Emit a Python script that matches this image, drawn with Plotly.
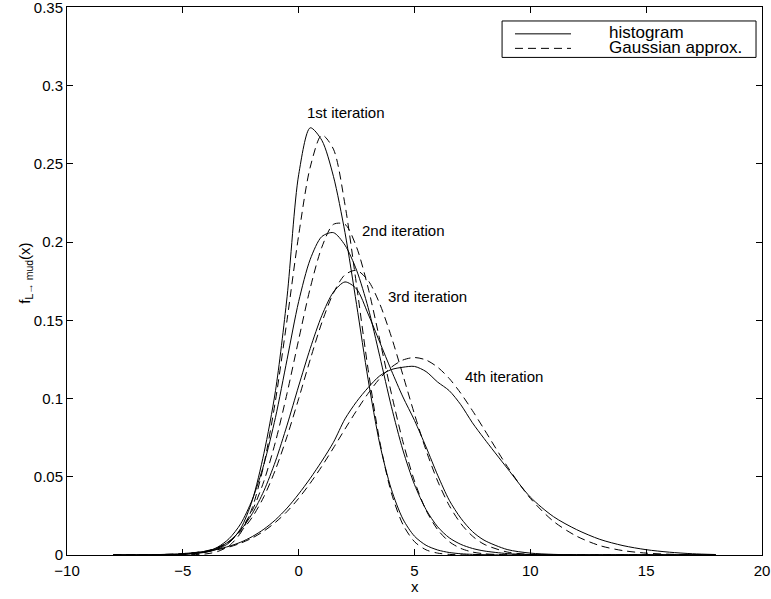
import plotly.graph_objects as go

# ---- data ----
x = [-8, -7, -6, -5, -4, -3.5, -3, -2.5, -2, -1.5, -1, -0.5, 0, 0.5, 1, 1.5, 2, 2.5, 3, 3.5,
     4, 4.5, 5, 5.5, 6, 6.5, 7, 7.5, 8, 9, 10, 11, 12, 13, 14, 15, 16, 17, 18]

hist_1 = [0, 0, 0.0001, 0.0004,
          0.0018, 0.0038, 0.0078, 0.0170, 0.0350, 0.0650, 0.1050, 0.1650, 0.2430, 0.2730, 0.2650, 0.2420,
          0.2060, 0.1600, 0.1120, 0.0710, 0.0420, 0.0230, 0.0120, 0.0062, 0.0032, 0.0016, 0.0008, 0.0004, 0.0002,
          0, 0, 0, 0, 0, 0, 0, 0, 0, 0]
gauss_1 = [0, 0, 0, 0.0001,
           0.0007, 0.0022, 0.0059, 0.0142, 0.0303, 0.0579, 0.0988, 0.1503, 0.2043, 0.2479, 0.2684, 0.2594,
           0.2238, 0.1723, 0.1184, 0.0727, 0.0398, 0.0195, 0.0085, 0.0033, 0.0012, 0.0004, 0.0001, 0, 0,
           0, 0, 0, 0, 0, 0, 0, 0, 0, 0]
hist_2 = [0, 0, 0.0001, 0.0005,
          0.0022, 0.0050, 0.0105, 0.0200, 0.0355, 0.0580, 0.0880, 0.1250, 0.1620, 0.1890, 0.2035, 0.2060,
          0.1980, 0.1820, 0.1580, 0.1270, 0.0950, 0.0670, 0.0450, 0.0290, 0.0180, 0.0110, 0.0068, 0.0042, 0.0026,
          0.0009, 0.0003, 0.0001, 0, 0, 0, 0, 0, 0, 0]
gauss_2 = [0, 0, 0, 0.0003,
           0.0019, 0.0042, 0.0085, 0.0162, 0.0286, 0.0472, 0.0724, 0.1034, 0.1376, 0.1706, 0.1967, 0.2113,
           0.2113, 0.1967, 0.1706, 0.1376, 0.1034, 0.0724, 0.0472, 0.0286, 0.0162, 0.0085, 0.0042, 0.0019, 0.0008,
           0.0001, 0, 0, 0, 0, 0, 0, 0, 0, 0]
hist_3 = [0, 0, 0.0001, 0.0005,
          0.0022, 0.0045, 0.0088, 0.0160, 0.0265, 0.0410, 0.0600, 0.0830, 0.1080, 0.1320, 0.1530, 0.1680,
          0.1745, 0.1700, 0.1540, 0.1360, 0.1180, 0.1010, 0.0860, 0.0690, 0.0510, 0.0350, 0.0235, 0.0150, 0.0095,
          0.0035, 0.0012, 0.0004, 0.0001, 0, 0, 0, 0, 0, 0]
gauss_3 = [0, 0, 0.0001, 0.0006,
           0.0026, 0.0048, 0.0087, 0.0149, 0.0242, 0.0373, 0.0546, 0.0758, 0.0999, 0.1250, 0.1485, 0.1674,
           0.1791, 0.1819, 0.1754, 0.1605, 0.1395, 0.1150, 0.0900, 0.0669, 0.0472, 0.0316, 0.0201, 0.0121, 0.0069,
           0.0019, 0.0004, 0.0001, 0, 0, 0, 0, 0, 0, 0]
hist_4 = [0, 0.0001, 0.0003, 0.0009,
          0.0024, 0.0037, 0.0056, 0.0082, 0.0118, 0.0165, 0.0225, 0.0300, 0.0390, 0.0490, 0.0600, 0.0720,
          0.0870, 0.0980, 0.1070, 0.1145, 0.1185, 0.1200, 0.1205, 0.1172, 0.1105, 0.1050, 0.0960, 0.0845, 0.0745,
          0.0555, 0.0370, 0.0245, 0.0162, 0.0100, 0.0060, 0.0034, 0.0018, 0.0008, 0.0003]
gauss_4 = [0, 0.0001, 0.0003, 0.0009,
           0.0022, 0.0034, 0.0051, 0.0076, 0.0109, 0.0153, 0.0209, 0.0278, 0.0362, 0.0459, 0.0567, 0.0684,
           0.0805, 0.0923, 0.1033, 0.1128, 0.1200, 0.1246, 0.1262, 0.1246, 0.1200, 0.1128, 0.1033, 0.0923, 0.0805,
           0.0567, 0.0362, 0.0215, 0.0120, 0.0060, 0.0028, 0.0012, 0.0005, 0.0002, 0]

series_names = ["histogram", "Gaussian approx."]
iteration_labels = ["1st iteration", "2nd iteration", "3rd iteration", "4th iteration"]
label_x = [0.26, 2.63, 3.78, 7.09]
label_y = [0.283, 0.2075, 0.165, 0.1143]

x_tickvals = [-10, -5, 0, 5, 10, 15, 20]
x_ticktext = ["\u221210", "\u22125", "0", "5", "10", "15", "20"]
y_tickvals = [0, 0.05, 0.1, 0.15, 0.2, 0.25, 0.3, 0.35]
y_ticktext = ["0", "0.05", "0.1", "0.15", "0.2", "0.25", "0.3", "0.35"]

FONT = "Liberation Sans, Arial, Helvetica, sans-serif"
DASH = "8px,5px"

fig = go.Figure()
hists = [hist_1, hist_2, hist_3, hist_4]
gausses = [gauss_1, gauss_2, gauss_3, gauss_4]
for i, (h, g) in enumerate(zip(hists, gausses)):
    fig.add_trace(go.Scatter(x=x, y=h, mode="lines", name=series_names[0], showlegend=False,
                             line=dict(color="black", width=1, shape="spline", smoothing=0.8)))
    fig.add_trace(go.Scatter(x=x, y=g, mode="lines", name=series_names[1], showlegend=False,
                             line=dict(color="black", width=1, dash=DASH, shape="spline", smoothing=0.8)))

for t, lx, ly in zip(iteration_labels, label_x, label_y):
    fig.add_annotation(x=lx, y=ly, text=t, showarrow=False, xanchor="left", yanchor="middle",
                       font=dict(family=FONT, size=15, color="black"))

# compact legend box (MATLAB style)
leg_x0, leg_x1, leg_y0, leg_y1 = 0.626, 0.9914, 0.9745, 0.908
fig.add_shape(type="rect", xref="paper", yref="paper", x0=leg_x0, x1=leg_x1, y0=leg_y1, y1=leg_y0,
              line=dict(color="black", width=1), fillcolor="white", layer="above")
row_y = [0.951, 0.9245]
line_styles = ["solid", DASH]
for name, ry, ls in zip(series_names, row_y, line_styles):
    fig.add_shape(type="line", xref="paper", yref="paper", x0=0.6446, x1=0.7252, y0=ry, y1=ry,
                  line=dict(color="black", width=1, dash=ls), layer="above")
    fig.add_annotation(xref="paper", yref="paper", x=0.777, y=ry + 0.002, text=name, showarrow=False,
                       xanchor="left", yanchor="middle", font=dict(family=FONT, size=17, color="black"))

# axis titles
fig.add_annotation(xref="paper", yref="paper", x=0.5, y=-0.058, text="x", showarrow=False,
                   xanchor="center", yanchor="middle", font=dict(family=FONT, size=15, color="black"))
fig.add_annotation(xref="paper", yref="paper", x=-0.059, y=0.515, text="f<sub>L\u2192 mud</sub>(x)",
                   showarrow=False, textangle=-90, xanchor="center", yanchor="middle",
                   font=dict(family=FONT, size=15, color="black"))

axis_common = dict(showline=True, linecolor="black", linewidth=1, mirror="ticks",
                   ticks="inside", ticklen=6, tickcolor="black", tickwidth=1, ticklabeloverflow="allow",
                   showgrid=False, zeroline=False, tickfont=dict(family=FONT, size=15, color="black"))

fig.update_layout(
    width=771, height=599,
    margin=dict(l=67, r=9, t=7, b=44),
    paper_bgcolor="white", plot_bgcolor="white",
    xaxis=dict(range=[-10, 20], tickvals=x_tickvals, ticktext=x_ticktext, automargin=False,
               ticklabelstandoff=2, **axis_common),
    yaxis=dict(range=[0, 0.3502], tickvals=y_tickvals, ticktext=y_ticktext, automargin=False, **axis_common),
    showlegend=False,
)

fig.write_html("out.html")
